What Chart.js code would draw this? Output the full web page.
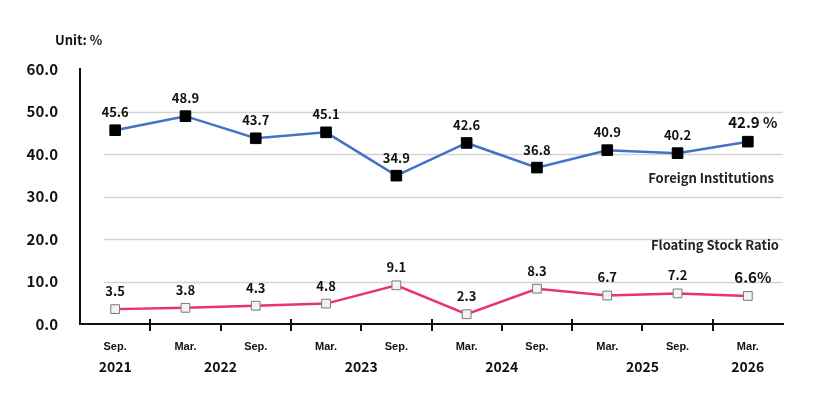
<!DOCTYPE html>
<html>
<head>
<meta charset="utf-8">
<script src="https://cdn.jsdelivr.net/npm/chart.js@4.4.1/dist/chart.umd.min.js"></script>
<style>
  html, body { margin: 0; padding: 0; background: #fff; }
  #wrap { width: 824px; height: 409px; position: relative; }
</style>
</head>
<body>
<div id="wrap"><canvas id="chart"></canvas></div>
<script>
'use strict';

// data
const months = ['Sep.', 'Mar.', 'Sep.', 'Mar.', 'Sep.', 'Mar.', 'Sep.', 'Mar.', 'Sep.', 'Mar.'];
const foreignInst = [45.6, 48.9, 43.7, 45.1, 34.9, 42.6, 36.8, 40.9, 40.2, 42.9];
const floatingRatio = [3.5, 3.8, 4.3, 4.8, 9.1, 2.3, 8.3, 6.7, 7.2, 6.6];
const years = ['2021', '2022', '2023', '2024', '2025', '2026'];
const yearAt = [0, 1.5, 3.5, 5.5, 7.5, 9];   // category index under which each year sits
const yearBreaks = [1, 3, 5, 7, 9];          // boundaries (before index) that start a new year
const yTicks = [0, 10, 20, 30, 40, 50, 60];

const FONT = '"Noto Sans CJK KR", "Noto Sans", sans-serif';

const overlayPlugin = {
  id: 'overlay',
  afterDraw(chart) {
    const ctx = chart.ctx, xs = chart.scales.x, ys = chart.scales.y, area = chart.chartArea;
    const axisY = ys.getPixelForValue(0);
    ctx.save();

    // x-axis tick marks at category boundaries
    ctx.strokeStyle = '#111';
    ctx.lineWidth = 2;
    for (let i = 1; i < months.length; i++) {
      const x = Math.round((xs.getPixelForValue(i - 1) + xs.getPixelForValue(i)) / 2);
      const major = yearBreaks.includes(i);
      ctx.beginPath();
      ctx.moveTo(x, axisY - (major ? 5 : 0));
      ctx.lineTo(x, axisY + 7);
      ctx.stroke();
    }

    // year labels
    ctx.fillStyle = '#111';
    ctx.font = 'bold 14px ' + FONT;
    ctx.textAlign = 'center';
    ctx.textBaseline = 'middle';
    years.forEach((y, i) => {
      const p = yearAt[i];
      const lo = Math.floor(p), hi = Math.ceil(p);
      const x = (xs.getPixelForValue(lo) + xs.getPixelForValue(hi)) / 2;
      ctx.fillText(y, x, 367);
    });

    // unit
    ctx.font = 'bold 13px ' + FONT;
    ctx.textAlign = 'left';
    ctx.fillText('Unit: %', 55, 40);

    // series names
    ctx.textAlign = 'right';
    ctx.fillStyle = '#222';
    ctx.fillText('Foreign Institutions', area.right - 9, 178);
    ctx.fillText('Floating Stock Ratio', area.right - 4, 245);

    // value labels
    chart.data.datasets.forEach((ds, di) => {
      const meta = chart.getDatasetMeta(di);
      meta.data.forEach((pt, i) => {
        const last = i === ds.data.length - 1;
        let txt = ds.data[i].toFixed(1);
        if (last) txt += ds.unitSuffix;
        ctx.font = (last ? 'bold 15px ' : 'bold 13px ') + FONT;
        ctx.fillStyle = '#111';
        ctx.textAlign = 'center';
        ctx.fillText(txt, pt.x + (last ? 5 : 0), pt.y - (last ? 19 : 18));
      });
    });
    ctx.restore();
  },
  beforeDatasetsDraw(chart) {
    // light horizontal gridlines, starting a little right of the y axis
    const ctx = chart.ctx, ys = chart.scales.y, area = chart.chartArea;
    ctx.save();
    ctx.strokeStyle = '#d4d4d4';
    ctx.lineWidth = 1.5;
    yTicks.forEach(v => {
      if (v === 0 || v === 60) return;
      const y = Math.round(ys.getPixelForValue(v)) + 0.5;
      ctx.beginPath();
      ctx.moveTo(area.left + 24, y);
      ctx.lineTo(area.right, y);
      ctx.stroke();
    });
    ctx.restore();
  }
};

new Chart(document.getElementById('chart'), {
  type: 'line',
  data: {
    labels: months,
    datasets: [{
      label: 'Foreign Institutions',
      data: foreignInst,
      unitSuffix: ' %',
      borderColor: '#4472c4',
      borderWidth: 2.5,
      pointStyle: 'rect',
      pointRadius: 7.5,
      pointBackgroundColor: '#000',
      pointBorderColor: '#000',
      pointBorderWidth: 1,
      tension: 0
    }, {
      label: 'Floating Stock Ratio',
      data: floatingRatio,
      unitSuffix: '%',
      borderColor: '#e8336d',
      borderWidth: 2.5,
      pointStyle: 'rect',
      pointRadius: 6.2,
      pointBackgroundColor: '#f2f2f2',
      pointBorderColor: '#7a7a7a',
      pointBorderWidth: 1,
      tension: 0
    }]
  },
  options: {
    responsive: true,
    maintainAspectRatio: false,
    animation: false,
    layout: { padding: { top: 69, right: 41, left: 0, bottom: 0 } },
    plugins: {
      legend: { display: false },
      tooltip: { enabled: false }
    },
    scales: {
      x: {
        offset: true,
        grid: { display: false, drawTicks: false },
        border: { display: true, color: '#111', width: 2 },
        ticks: {
          color: '#111',
          font: { family: '"Liberation Sans", Arial, sans-serif', size: 11, weight: 'bold' },
          padding: 16,
          maxRotation: 0,
          autoSkip: false
        },
        afterFit(scale) { scale.height = 85; }
      },
      y: {
        min: 0,
        max: 60,
        grid: { display: false },
        border: { display: true, color: '#111', width: 2 },
        ticks: {
          stepSize: 10,
          color: '#111',
          padding: 14,
          font: { family: FONT, size: 15, weight: 'bold' },
          callback: v => v.toFixed(1)
        },
        afterFit(scale) { scale.width = 80; }
      }
    }
  },
  plugins: [overlayPlugin]
});
</script>
</body>
</html>
